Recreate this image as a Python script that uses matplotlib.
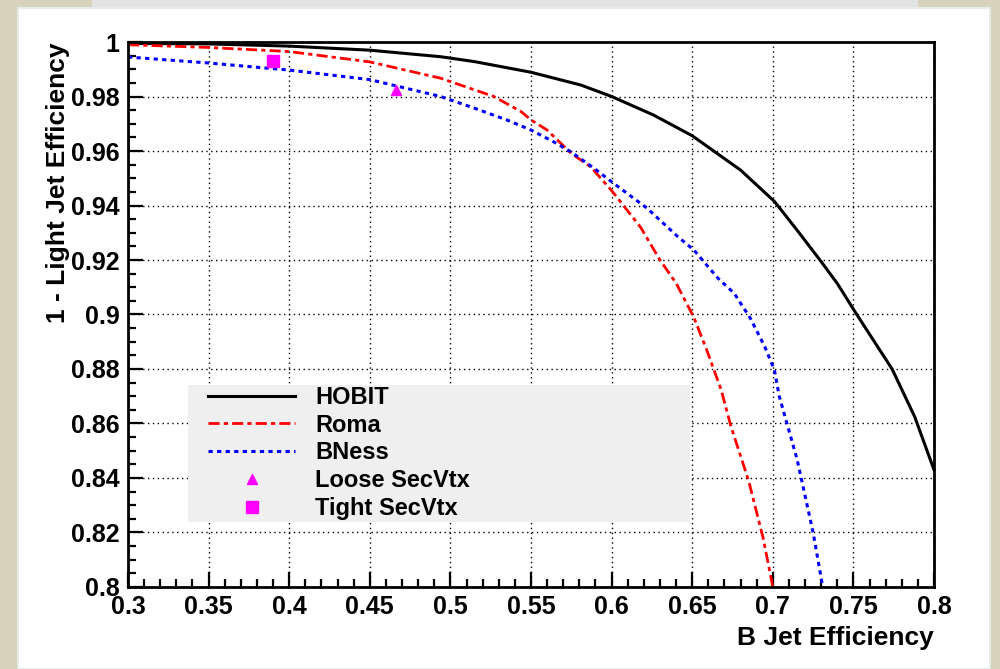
import numpy as np
import matplotlib
matplotlib.use("Agg")
import matplotlib.pyplot as plt
from matplotlib.patches import Rectangle
from matplotlib.ticker import MultipleLocator, FuncFormatter

plt.rcParams['font.family'] = ['Liberation Sans', 'DejaVu Sans']
plt.rcParams['font.weight'] = 'bold'

# Daten
hobit_x = [0.30, 0.35, 0.40, 0.45, 0.494, 0.515, 0.55, 0.581, 0.60, 0.626, 0.650, 0.680,
           0.701, 0.715, 0.730, 0.740, 0.751, 0.765, 0.774, 0.788, 0.80]
hobit_y = [0.9995, 0.9993, 0.9985, 0.997, 0.9946, 0.9928, 0.9889, 0.9842, 0.980, 0.9732, 0.9656, 0.953,
           0.9415, 0.931, 0.9194, 0.9114, 0.901, 0.8882, 0.880, 0.8625, 0.843]

roma_x = [0.30, 0.35, 0.40, 0.45, 0.494, 0.527, 0.544, 0.55, 0.560, 0.575, 0.587, 0.60,
          0.618, 0.630, 0.640, 0.651, 0.659, 0.668, 0.674, 0.685, 0.694, 0.70]
roma_y = [0.999, 0.998, 0.9965, 0.9927, 0.9867, 0.980, 0.9744, 0.9714, 0.9677, 0.9591, 0.9542, 0.9455,
          0.932, 0.920, 0.9115, 0.899, 0.887, 0.8723, 0.859, 0.839, 0.818, 0.80]

bness_x = [0.30, 0.35, 0.40, 0.45, 0.494, 0.515, 0.535, 0.55, 0.564, 0.575, 0.589, 0.60, 0.622,
           0.641, 0.651, 0.666, 0.676, 0.686, 0.695, 0.701, 0.704, 0.715, 0.725, 0.731]
bness_y = [0.9945, 0.9923, 0.9897, 0.9862, 0.980, 0.9757, 0.9714, 0.9677, 0.9634, 0.9596, 0.9537, 0.9487, 0.939,
           0.9286, 0.9237, 0.9133, 0.9078, 0.8987, 0.8882, 0.8796, 0.870, 0.847, 0.820, 0.80]

loose_x, loose_y = [0.466], [0.9825]
tight_x, tight_y = [0.390], [0.993]

fig = plt.figure(figsize=(10, 6.69), dpi=100, facecolor='#d9d2bb')

# Hintergrund wie im Screenshot
fig.patches.append(Rectangle((0.092, 0.985), 0.826, 0.015, transform=fig.transFigure,
                             facecolor='#e3e3e3', edgecolor='none', zorder=-10))
fig.patches.append(Rectangle((0.018, 0.0), 0.972, 0.988, transform=fig.transFigure,
                             facecolor='white', edgecolor='#e6ecec', linewidth=1.5, zorder=-10))

ax = fig.add_axes([0.128, 0.1226, 0.806, 0.8146])
ax.set_zorder(5)
ax.set_facecolor('white')

ax.plot(hobit_x, hobit_y, color='black', linewidth=2.2, label='HOBIT')
ax.plot(roma_x, roma_y, color='red', linewidth=2.0, dashes=(4, 1.5, 1.5, 1.5), label='Roma')
ax.plot(bness_x, bness_y, color='blue', linewidth=2.2, dashes=(1.4, 1.4), label='BNess')
ax.plot(loose_x, loose_y, linestyle='none', marker='^', color='magenta', markersize=7, label='Loose SecVtx')
ax.plot(tight_x, tight_y, linestyle='none', marker='s', color='magenta', markersize=8, label='Tight SecVtx')

ax.set_xlim(0.3, 0.8)
ax.set_ylim(0.8, 1.0)
ax.xaxis.set_major_locator(MultipleLocator(0.05))
ax.xaxis.set_minor_locator(MultipleLocator(0.01))
ax.yaxis.set_major_locator(MultipleLocator(0.02))
ax.yaxis.set_minor_locator(MultipleLocator(0.005))
fmt = FuncFormatter(lambda v, p: '%g' % round(v, 3))
ax.xaxis.set_major_formatter(fmt)
ax.yaxis.set_major_formatter(fmt)
ax.tick_params(which='both', direction='in', top=False, right=False, width=1.6, labelsize=18)
ax.tick_params(which='major', length=11, pad=6)
ax.tick_params(which='minor', length=6)
for lab in ax.get_xticklabels() + ax.get_yticklabels():
    lab.set_fontweight('bold')

ax.grid(True, which='major', color='black', linestyle=(0, (1, 2.5)), linewidth=1)
for s in ax.spines.values():
    s.set_linewidth(2)

ax.set_xlabel('B Jet Efficiency', fontsize=19, fontweight='bold', loc='right', labelpad=5)
ax.set_ylabel('1 - Light Jet Efficiency', fontsize=19, fontweight='bold', loc='top', labelpad=1)

# Legendenkasten (grau, ohne Rand)
ax.add_patch(Rectangle((0.0744, 0.119), 0.623, 0.252, transform=ax.transAxes,
                       facecolor='#efefef', edgecolor='none', zorder=2.5))
leg = ax.legend(loc='upper left', bbox_to_anchor=(0.0993, 0.369), borderaxespad=0,
                fontsize=17, frameon=False, numpoints=1, handlelength=3.7,
                handletextpad=0.85, labelspacing=0.2, borderpad=0)
for t in leg.get_texts():
    t.set_fontweight('bold')

plt.savefig('out.png', dpi=100, facecolor=fig.get_facecolor())
